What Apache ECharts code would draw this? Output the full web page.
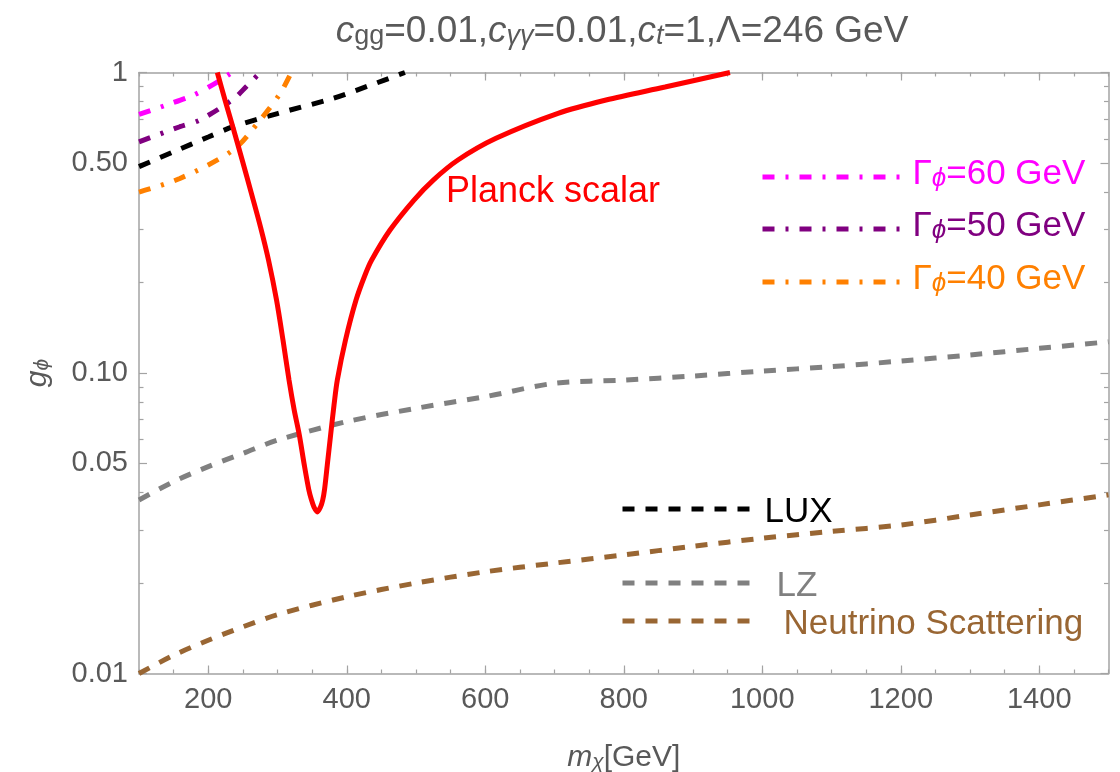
<!DOCTYPE html>
<html><head><meta charset="utf-8">
<script src="https://cdn.jsdelivr.net/npm/echarts@6/dist/echarts.min.js"></script>
<style>html,body{margin:0;padding:0;background:#fff}#c{width:1120px;height:772px}</style>
</head><body><div id="c"></div>
<script>
// ---- data (m_chi in GeV, g_phi) ----
const massPlanck = [213.1,224.2,235.5,249.0,262.2,275.5,287.0,298.6,307.9,316.6,324.1,331.5,338.7,345.2,349.1,352.7,357.5,362.1,365.3,367.9,371.9,376.7,381.6,386.4,398.2,413.4,426.4,436.0,462.5,497.1,525.0,560.6,615.5,705.1,774.4,859.6,953.4];
const gPlanck    = [1.0,0.810,0.659,0.5115,0.397,0.306,0.2377,0.1749,0.1288,0.0948,0.0753,0.0622,0.0494,0.0409,0.0378,0.0358,0.0345,0.0358,0.0378,0.0409,0.0494,0.0622,0.0782,0.0948,0.1288,0.1749,0.2119,0.2377,0.2991,0.3764,0.4387,0.5115,0.604,0.7314,0.810,0.895,1.0];
const massLUX = [100,150,200,236,300,380,430,484];
const gLUX    = [0.486,0.545,0.61,0.66,0.73,0.82,0.90,1.0];
const massG60 = [100,140,178,210,234];
const gG60    = [0.725,0.78,0.84,0.92,1.0];
const massG50 = [100,159,188,236,255,275];
const gG50    = [0.588,0.66,0.695,0.815,0.898,1.0];
const massG40 = [100,159,236,275,304,320];
const gG40    = [0.40,0.444,0.552,0.695,0.853,1.0];
const massLZ = [100,150,200,250,300,400,500,600,700,800,900,1000,1100,1200,1300,1400,1500];
const gLZ    = [0.0378,0.0435,0.0488,0.054,0.0598,0.0689,0.0763,0.0834,0.0924,0.0947,0.0977,0.1015,0.105,0.1096,0.1148,0.1208,0.127];
const massNu = [100,150,200,250,300,400,500,600,700,800,900,1000,1100,1200,1300,1400,1500];
const gNu    = [0.0100,0.0115,0.0129,0.0143,0.0157,0.0180,0.0200,0.0218,0.0233,0.0248,0.0265,0.0282,0.0297,0.0312,0.0337,0.0364,0.0393];
// tick labels
const xTickLabels = [200,400,600,800,1000,1200,1400];
const yTickLabels = [0.01,0.05,0.1,0.5,1];
const yMinorTicks = [0.02,0.03,0.04,0.06,0.07,0.08,0.09,0.2,0.3,0.4,0.6,0.7,0.8,0.9];
const yLabelText = {'0.01':'0.01','0.05':'0.05','0.1':'0.10','0.5':'0.50','1':'1'};

// ---- styles ----
const FONT = '"Liberation Sans", Arial, sans-serif';
const TXT = '#595959';
const FRAME = '#a3a3a3';
const C = {planck:'#ff0000', lux:'#000000', g60:'#ff00ff', g50:'#800080', g40:'#ff8000', lz:'#808080', nu:'#996633'};
const DASH = [12, 11];
const DASHDOT = [12, 11, 3, 11];

function pairs(xs, ys){ return xs.map((x,i)=>[x, ys[i]]); }
function mkSeries(name, xs, ys, color, type, width, z, smooth){
  return {name, type:'line', data: pairs(xs, ys), symbol:'none', smooth: smooth,
    lineStyle:{color, width, type}, itemStyle:{color}, z, clip:true, silent:true, animation:false};
}
// rich text helpers: tokens are bottom-aligned; smaller lineHeight pushes subscripts down
function tok(size, color, lh, italic, extra){
  return Object.assign({fontSize:size, fontFamily:FONT, color, lineHeight:lh, verticalAlign:'bottom',
    fontWeight:'normal', fontStyle: italic ? 'italic' : 'normal'}, extra || {});
}

function gammaLegend(name, color, top){
  return {data:[name], left:760, top, padding:0, itemWidth:145, itemHeight:14, selectedMode:false,
    itemStyle:{opacity:0}, lineStyle:{width:'inherit', type:'inherit'},
    formatter: n => '{a|Γ}{s|ϕ}{a|' + n.replace('Γϕ','') + '}',
    textStyle:{color, fontSize:35, fontFamily:FONT,
      rich:{a:tok(35, color, 42, false, {padding:[0,0,6,0]}), s:tok(26, color, 24, true, {padding:[0,0,6,0]})}}};
}
function plainLegend(name, color, top, pad){
  return {data:[name], left:620, top, padding:0, itemWidth:137, itemHeight:14, selectedMode:false,
    itemStyle:{opacity:0}, lineStyle:{width:'inherit', type:'inherit'},
    formatter: n => '{t|' + n + '}',
    textStyle:{color, fontSize:35, fontFamily:FONT,
      rich:{t:tok(35, color, 42, false, {padding:[0,0,0,pad]})}}};
}

function xAx(pos, major){
  const o = {type:'value', min:100, max:1500, position:pos, splitLine:{show:false},
    axisLine:{show:!major, lineStyle:{color:FRAME, width:1.5}},
    axisLabel:{show:false}};
  if (major){
    o.axisTick = {show:true, inside:true, length:8, customValues:xTickLabels, lineStyle:{color:FRAME, width:1.2}};
  } else {
    o.interval = 50;
    o.axisTick = {show:true, inside:true, length:4, lineStyle:{color:FRAME, width:1.2}};
  }
  return o;
}
function yAx(pos, major){
  return {type:'log', logBase:10, min:0.01, max:1, position:pos, splitLine:{show:false},
    axisLine:{show:major, lineStyle:{color:FRAME, width:1.5}},
    axisTick:{show:true, inside:true, length: major?8:4.5, customValues: major? yTickLabels : yMinorTicks, lineStyle:{color:FRAME, width:1.2}},
    axisLabel:{show:false}};
}

const xAxes = [xAx('bottom', false), xAx('bottom', true), xAx('top', false), xAx('top', true)];
xAxes[0].axisLabel = {show:true, customValues:xTickLabels, margin:12, fontSize:29, color:TXT, fontFamily:FONT,
  formatter: v => String(Math.round(v))};
xAxes[0].name = '{i|m}{s|χ}{n|[GeV]}';
xAxes[0].nameLocation = 'middle';
xAxes[0].nameGap = 63;
xAxes[0].nameTextStyle = {rich:{i:tok(30, TXT, 36, true), s:tok(21, TXT, 20, true), n:tok(30, TXT, 36, false)}};

const yAxes = [yAx('left', true), yAx('left', false), yAx('right', true), yAx('right', false)];
yAxes[0].axisLabel = {show:true, customValues:yTickLabels, margin:11, fontSize:29, color:TXT, fontFamily:FONT,
  formatter: v => { const k = String(+(+v).toPrecision(3)); return yLabelText[k] !== undefined ? yLabelText[k] : k; }};
yAxes[0].name = '{i|g}{s|ϕ}';
yAxes[0].nameLocation = 'middle';
yAxes[0].nameRotate = 90;
yAxes[0].nameGap = 86;
yAxes[0].nameTextStyle = {rich:{i:tok(30, TXT, 36, true), s:tok(21, TXT, 20, true)}};

const chart = echarts.init(document.getElementById('c'), null, {renderer:'canvas'});
chart.setOption({
  animation:false,
  backgroundColor:'#ffffff',
  title:{text:'{i|c}{s|gg}{n|=0.01,}{i|c}{si|γγ}{n|=0.01,}{i|c}{si|t}{n|=1,Λ=246 GeV}',
    left:622, textAlign:'center', top:7, padding:0,
    textStyle:{fontWeight:'normal', rich:{n:tok(37, TXT, 43, false), i:tok(37, TXT, 43, true),
      s:tok(27, TXT, 25, false), si:tok(27, TXT, 25, true)}}},
  grid:{left:139, right:11.5, top:72.5, bottom:98.5, containLabel:false, outerBoundsMode:'none'},
  xAxis: xAxes,
  yAxis: yAxes,
  legend:[
    gammaLegend('Γϕ=60 GeV', C.g60, 157),
    gammaLegend('Γϕ=50 GeV', C.g50, 209),
    gammaLegend('Γϕ=40 GeV', C.g40, 262),
    plainLegend('LUX', C.lux, 495, 0),
    plainLegend('LZ', C.lz, 569, 12),
    plainLegend('Neutrino Scattering', C.nu, 607, 19)
  ],
  graphic:[{type:'text', x:446, y:192, z:100, silent:true,
    style:{text:'Planck scalar', fill:C.planck, font:'36px "Liberation Sans", Arial, sans-serif', align:'left', verticalAlign:'middle'}}],
  series:[
    mkSeries('Neutrino Scattering', massNu, gNu, C.nu, DASH, 5, 2, 0.3),
    mkSeries('LZ', massLZ, gLZ, C.lz, DASH, 5, 2, 0.3),
    mkSeries('LUX', massLUX, gLUX, C.lux, DASH, 5, 3, 0.3),
    mkSeries('Γϕ=60 GeV', massG60, gG60, C.g60, DASHDOT, 5, 3, 0.3),
    mkSeries('Γϕ=50 GeV', massG50, gG50, C.g50, DASHDOT, 5, 3, 0.3),
    mkSeries('Γϕ=40 GeV', massG40, gG40, C.g40, DASHDOT, 5, 3, 0.3),
    mkSeries('Planck scalar', massPlanck, gPlanck, C.planck, 'solid', 5, 5, 0.3)
  ]
});
</script>
</body></html>
